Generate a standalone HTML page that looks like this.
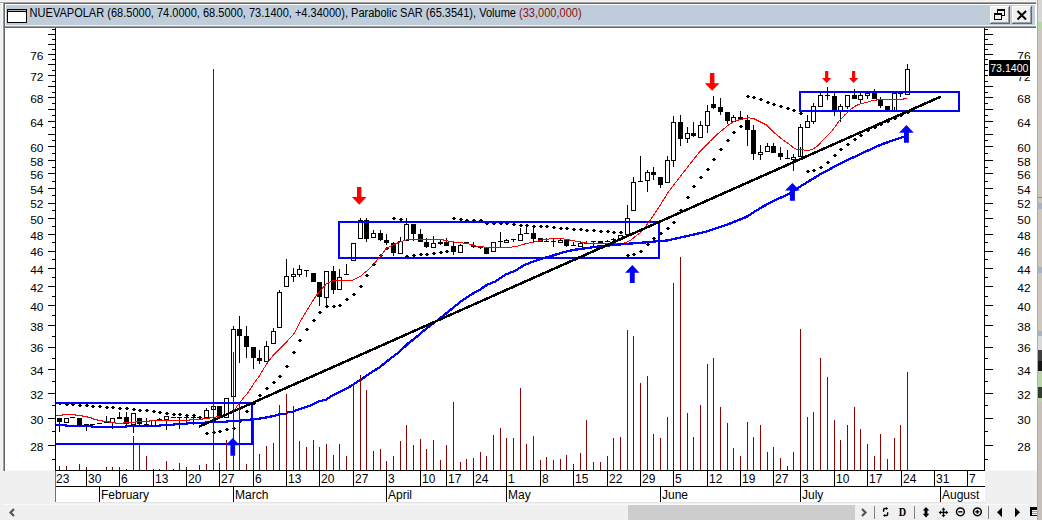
<!DOCTYPE html>
<html><head><meta charset="utf-8"><title>NUEVAPOLAR</title>
<style>
html,body{margin:0;padding:0;background:#f0f0f0;}
body{width:1042px;height:520px;overflow:hidden;position:relative;font-family:"Liberation Sans",sans-serif;}
svg{position:absolute;left:0;top:0;display:block;}
</style></head><body>
<svg width="1042" height="520" viewBox="0 0 1042 520" shape-rendering="crispEdges" font-family="Liberation Sans, sans-serif">
<rect x="0" y="0" width="1042" height="520" fill="#f0f0f0"/>
<rect x="0" y="1" width="1037" height="1" fill="#f6f6f6"/>
<rect x="0" y="2" width="1036" height="1" fill="#a0a0a0"/>
<rect x="3" y="3" width="1033" height="1" fill="#696969"/>
<rect x="0" y="3" width="3" height="1" fill="#ffffff"/>
<rect x="2" y="4" width="1" height="467" fill="#f8f8f8"/>
<rect x="3" y="3" width="1" height="468" fill="#9a9a9a"/>
<rect x="4" y="3" width="1" height="468" fill="#666666"/>
<rect x="5" y="4" width="1032" height="467" fill="#ffffff"/>
<rect x="6" y="5" width="1029" height="20" fill="#bfcddb"/>
<rect x="5" y="25" width="1032" height="1" fill="#f2f2f2"/>
<rect x="5" y="26" width="1031" height="1" fill="#9c9c9c"/>
<rect x="5" y="27" width="1031" height="1" fill="#6a6a6a"/>
<rect x="1037" y="0" width="1" height="520" fill="#f0a040"/>
<rect x="1038" y="0" width="4" height="22" fill="#d6d6d6"/>
<rect x="1038" y="22" width="4" height="7" fill="#b8d4a8"/>
<rect x="1038" y="29" width="4" height="491" fill="#cdc6bf"/>
<rect x="1038" y="197" width="4" height="1" fill="#8a8a8a"/>
<rect x="1038" y="203" width="4" height="6" fill="#a9b3c4"/>
<rect x="1038" y="267" width="4" height="6" fill="#a9b3c4"/>
<rect x="1038" y="331" width="4" height="5" fill="#a8b4c4"/>
<rect x="1038" y="336" width="4" height="14" fill="#dadada"/>
<rect x="1038" y="350" width="4" height="11" fill="#404040"/>
<rect x="1038" y="361" width="4" height="10" fill="#151515"/>
<rect x="1038" y="371" width="4" height="16" fill="#b8d4a8"/>
<rect x="1038" y="387" width="4" height="11" fill="#343c34"/>
<rect x="1038" y="398" width="4" height="4" fill="#b8d4a8"/>
<rect x="1038" y="402" width="4" height="118" fill="#c8c0b8"/>
<rect x="7" y="9" width="20" height="14" fill="#000"/>
<rect x="8" y="10" width="18" height="1" fill="#b4b4b4"/>
<rect x="8" y="12" width="18" height="10" fill="#fff"/>
<rect x="990" y="6" width="20" height="18" fill="#696969"/>
<rect x="990" y="6" width="19" height="17" fill="#ffffff"/>
<rect x="991" y="7" width="18" height="16" fill="#a0a0a0"/>
<rect x="991" y="7" width="17" height="15" fill="#f0f0f0"/>
<rect x="1012" y="6" width="20" height="18" fill="#696969"/>
<rect x="1012" y="6" width="19" height="17" fill="#ffffff"/>
<rect x="1013" y="7" width="18" height="16" fill="#a0a0a0"/>
<rect x="1013" y="7" width="17" height="15" fill="#f0f0f0"/>
<g fill="none" stroke="#000" stroke-width="1">
<rect x="997.5" y="10.5" width="7" height="5"/>
<rect x="994.5" y="14.5" width="7" height="5" fill="#f0f0f0"/>
</g>
<rect x="997" y="9" width="8" height="2" fill="#000"/>
<rect x="994" y="13" width="8" height="2" fill="#000"/>
<path d="M1017.5 11 L1026 19.5 M1026 11 L1017.5 19.5" stroke="#000" stroke-width="2" fill="none" shape-rendering="geometricPrecision"/>
<text x="29.6" y="17" font-size="12" textLength="552" lengthAdjust="spacingAndGlyphs" fill="#000">NUEVAPOLAR (68.5000, 74.0000, 68.5000, 73.1400, +4.34000), Parabolic SAR (65.3541), Volume <tspan fill="#8b1010">(33,000,000)</tspan></text>
<rect x="55" y="28" width="1" height="443" fill="#000"/>
<rect x="984" y="28" width="1" height="443" fill="#000"/>
<rect x="52" y="29" width="3" height="1" fill="#000"/>
<rect x="985" y="29" width="3" height="1" fill="#000"/>
<rect x="48" y="34" width="7" height="1" fill="#000"/>
<rect x="985" y="34" width="8" height="1" fill="#000"/>
<rect x="52" y="39" width="3" height="1" fill="#000"/>
<rect x="985" y="39" width="3" height="1" fill="#000"/>
<rect x="48" y="44" width="7" height="1" fill="#000"/>
<rect x="985" y="44" width="8" height="1" fill="#000"/>
<rect x="52" y="49" width="3" height="1" fill="#000"/>
<rect x="985" y="49" width="3" height="1" fill="#000"/>
<rect x="48" y="54" width="7" height="1" fill="#000"/>
<rect x="985" y="54" width="8" height="1" fill="#000"/>
<rect x="52" y="59" width="3" height="1" fill="#000"/>
<rect x="985" y="59" width="3" height="1" fill="#000"/>
<rect x="48" y="64" width="7" height="1" fill="#000"/>
<rect x="985" y="64" width="8" height="1" fill="#000"/>
<rect x="52" y="70" width="3" height="1" fill="#000"/>
<rect x="985" y="70" width="3" height="1" fill="#000"/>
<rect x="48" y="75" width="7" height="1" fill="#000"/>
<rect x="985" y="75" width="8" height="1" fill="#000"/>
<rect x="52" y="81" width="3" height="1" fill="#000"/>
<rect x="985" y="81" width="3" height="1" fill="#000"/>
<rect x="48" y="86" width="7" height="1" fill="#000"/>
<rect x="985" y="86" width="8" height="1" fill="#000"/>
<rect x="52" y="92" width="3" height="1" fill="#000"/>
<rect x="985" y="92" width="3" height="1" fill="#000"/>
<rect x="48" y="97" width="7" height="1" fill="#000"/>
<rect x="985" y="97" width="8" height="1" fill="#000"/>
<rect x="52" y="103" width="3" height="1" fill="#000"/>
<rect x="985" y="103" width="3" height="1" fill="#000"/>
<rect x="48" y="109" width="7" height="1" fill="#000"/>
<rect x="985" y="109" width="8" height="1" fill="#000"/>
<rect x="52" y="115" width="3" height="1" fill="#000"/>
<rect x="985" y="115" width="3" height="1" fill="#000"/>
<rect x="48" y="121" width="7" height="1" fill="#000"/>
<rect x="985" y="121" width="8" height="1" fill="#000"/>
<rect x="52" y="127" width="3" height="1" fill="#000"/>
<rect x="985" y="127" width="3" height="1" fill="#000"/>
<rect x="48" y="134" width="7" height="1" fill="#000"/>
<rect x="985" y="134" width="8" height="1" fill="#000"/>
<rect x="52" y="140" width="3" height="1" fill="#000"/>
<rect x="985" y="140" width="3" height="1" fill="#000"/>
<rect x="48" y="146" width="7" height="1" fill="#000"/>
<rect x="985" y="146" width="8" height="1" fill="#000"/>
<rect x="52" y="153" width="3" height="1" fill="#000"/>
<rect x="985" y="153" width="3" height="1" fill="#000"/>
<rect x="48" y="160" width="7" height="1" fill="#000"/>
<rect x="985" y="160" width="8" height="1" fill="#000"/>
<rect x="52" y="167" width="3" height="1" fill="#000"/>
<rect x="985" y="167" width="3" height="1" fill="#000"/>
<rect x="48" y="173" width="7" height="1" fill="#000"/>
<rect x="985" y="173" width="8" height="1" fill="#000"/>
<rect x="52" y="181" width="3" height="1" fill="#000"/>
<rect x="985" y="181" width="3" height="1" fill="#000"/>
<rect x="48" y="188" width="7" height="1" fill="#000"/>
<rect x="985" y="188" width="8" height="1" fill="#000"/>
<rect x="52" y="195" width="3" height="1" fill="#000"/>
<rect x="985" y="195" width="3" height="1" fill="#000"/>
<rect x="48" y="203" width="7" height="1" fill="#000"/>
<rect x="985" y="203" width="8" height="1" fill="#000"/>
<rect x="52" y="210" width="3" height="1" fill="#000"/>
<rect x="985" y="210" width="3" height="1" fill="#000"/>
<rect x="48" y="218" width="7" height="1" fill="#000"/>
<rect x="985" y="218" width="8" height="1" fill="#000"/>
<rect x="52" y="226" width="3" height="1" fill="#000"/>
<rect x="985" y="226" width="3" height="1" fill="#000"/>
<rect x="48" y="234" width="7" height="1" fill="#000"/>
<rect x="985" y="234" width="8" height="1" fill="#000"/>
<rect x="52" y="242" width="3" height="1" fill="#000"/>
<rect x="985" y="242" width="3" height="1" fill="#000"/>
<rect x="48" y="251" width="7" height="1" fill="#000"/>
<rect x="985" y="251" width="8" height="1" fill="#000"/>
<rect x="52" y="259" width="3" height="1" fill="#000"/>
<rect x="985" y="259" width="3" height="1" fill="#000"/>
<rect x="48" y="268" width="7" height="1" fill="#000"/>
<rect x="985" y="268" width="8" height="1" fill="#000"/>
<rect x="52" y="277" width="3" height="1" fill="#000"/>
<rect x="985" y="277" width="3" height="1" fill="#000"/>
<rect x="48" y="286" width="7" height="1" fill="#000"/>
<rect x="985" y="286" width="8" height="1" fill="#000"/>
<rect x="52" y="296" width="3" height="1" fill="#000"/>
<rect x="985" y="296" width="3" height="1" fill="#000"/>
<rect x="48" y="305" width="7" height="1" fill="#000"/>
<rect x="985" y="305" width="8" height="1" fill="#000"/>
<rect x="52" y="315" width="3" height="1" fill="#000"/>
<rect x="985" y="315" width="3" height="1" fill="#000"/>
<rect x="48" y="325" width="7" height="1" fill="#000"/>
<rect x="985" y="325" width="8" height="1" fill="#000"/>
<rect x="52" y="336" width="3" height="1" fill="#000"/>
<rect x="985" y="336" width="3" height="1" fill="#000"/>
<rect x="48" y="347" width="7" height="1" fill="#000"/>
<rect x="985" y="347" width="8" height="1" fill="#000"/>
<rect x="52" y="358" width="3" height="1" fill="#000"/>
<rect x="985" y="358" width="3" height="1" fill="#000"/>
<rect x="48" y="369" width="7" height="1" fill="#000"/>
<rect x="985" y="369" width="8" height="1" fill="#000"/>
<rect x="52" y="381" width="3" height="1" fill="#000"/>
<rect x="985" y="381" width="3" height="1" fill="#000"/>
<rect x="48" y="393" width="7" height="1" fill="#000"/>
<rect x="985" y="393" width="8" height="1" fill="#000"/>
<rect x="52" y="405" width="3" height="1" fill="#000"/>
<rect x="985" y="405" width="3" height="1" fill="#000"/>
<rect x="48" y="418" width="7" height="1" fill="#000"/>
<rect x="985" y="418" width="8" height="1" fill="#000"/>
<rect x="52" y="431" width="3" height="1" fill="#000"/>
<rect x="985" y="431" width="3" height="1" fill="#000"/>
<rect x="48" y="445" width="7" height="1" fill="#000"/>
<rect x="985" y="445" width="8" height="1" fill="#000"/>
<rect x="52" y="459" width="3" height="1" fill="#000"/>
<rect x="985" y="459" width="3" height="1" fill="#000"/>
<g font-size="11.4" fill="#000"><text x="30.2" y="59.8" textLength="13.3" lengthAdjust="spacingAndGlyphs">76</text><text x="1017.3" y="59.8" textLength="13.3" lengthAdjust="spacingAndGlyphs">76</text><text x="30.2" y="81.0" textLength="13.3" lengthAdjust="spacingAndGlyphs">72</text><text x="1017.3" y="81.0" textLength="13.3" lengthAdjust="spacingAndGlyphs">72</text><text x="30.2" y="103.4" textLength="13.3" lengthAdjust="spacingAndGlyphs">68</text><text x="1017.3" y="103.4" textLength="13.3" lengthAdjust="spacingAndGlyphs">68</text><text x="30.2" y="127.1" textLength="13.3" lengthAdjust="spacingAndGlyphs">64</text><text x="1017.3" y="127.1" textLength="13.3" lengthAdjust="spacingAndGlyphs">64</text><text x="30.2" y="152.4" textLength="13.3" lengthAdjust="spacingAndGlyphs">60</text><text x="1017.3" y="152.4" textLength="13.3" lengthAdjust="spacingAndGlyphs">60</text><text x="30.2" y="165.6" textLength="13.3" lengthAdjust="spacingAndGlyphs">58</text><text x="1017.3" y="165.6" textLength="13.3" lengthAdjust="spacingAndGlyphs">58</text><text x="30.2" y="179.4" textLength="13.3" lengthAdjust="spacingAndGlyphs">56</text><text x="1017.3" y="179.4" textLength="13.3" lengthAdjust="spacingAndGlyphs">56</text><text x="30.2" y="193.6" textLength="13.3" lengthAdjust="spacingAndGlyphs">54</text><text x="1017.3" y="193.6" textLength="13.3" lengthAdjust="spacingAndGlyphs">54</text><text x="30.2" y="208.4" textLength="13.3" lengthAdjust="spacingAndGlyphs">52</text><text x="1017.3" y="208.4" textLength="13.3" lengthAdjust="spacingAndGlyphs">52</text><text x="30.2" y="223.8" textLength="13.3" lengthAdjust="spacingAndGlyphs">50</text><text x="1017.3" y="223.8" textLength="13.3" lengthAdjust="spacingAndGlyphs">50</text><text x="30.2" y="239.8" textLength="13.3" lengthAdjust="spacingAndGlyphs">48</text><text x="1017.3" y="239.8" textLength="13.3" lengthAdjust="spacingAndGlyphs">48</text><text x="30.2" y="256.4" textLength="13.3" lengthAdjust="spacingAndGlyphs">46</text><text x="1017.3" y="256.4" textLength="13.3" lengthAdjust="spacingAndGlyphs">46</text><text x="30.2" y="273.8" textLength="13.3" lengthAdjust="spacingAndGlyphs">44</text><text x="1017.3" y="273.8" textLength="13.3" lengthAdjust="spacingAndGlyphs">44</text><text x="30.2" y="292.0" textLength="13.3" lengthAdjust="spacingAndGlyphs">42</text><text x="1017.3" y="292.0" textLength="13.3" lengthAdjust="spacingAndGlyphs">42</text><text x="30.2" y="311.1" textLength="13.3" lengthAdjust="spacingAndGlyphs">40</text><text x="1017.3" y="311.1" textLength="13.3" lengthAdjust="spacingAndGlyphs">40</text><text x="30.2" y="331.2" textLength="13.3" lengthAdjust="spacingAndGlyphs">38</text><text x="1017.3" y="331.2" textLength="13.3" lengthAdjust="spacingAndGlyphs">38</text><text x="30.2" y="352.4" textLength="13.3" lengthAdjust="spacingAndGlyphs">36</text><text x="1017.3" y="352.4" textLength="13.3" lengthAdjust="spacingAndGlyphs">36</text><text x="30.2" y="374.8" textLength="13.3" lengthAdjust="spacingAndGlyphs">34</text><text x="1017.3" y="374.8" textLength="13.3" lengthAdjust="spacingAndGlyphs">34</text><text x="30.2" y="398.5" textLength="13.3" lengthAdjust="spacingAndGlyphs">32</text><text x="1017.3" y="398.5" textLength="13.3" lengthAdjust="spacingAndGlyphs">32</text><text x="30.2" y="423.8" textLength="13.3" lengthAdjust="spacingAndGlyphs">30</text><text x="1017.3" y="423.8" textLength="13.3" lengthAdjust="spacingAndGlyphs">30</text><text x="30.2" y="450.8" textLength="13.3" lengthAdjust="spacingAndGlyphs">28</text><text x="1017.3" y="450.8" textLength="13.3" lengthAdjust="spacingAndGlyphs">28</text></g>
<rect x="5" y="470" width="1031" height="1" fill="#f8f8f8"/>
<rect x="55" y="471" width="930" height="31" fill="#ffffff"/>
<rect x="55" y="470" width="930" height="1" fill="#000"/>
<rect x="55" y="486" width="930" height="1" fill="#000"/>
<rect x="55" y="471" width="1" height="31" fill="#707070"/>
<rect x="56" y="502" width="929" height="1" fill="#e4e4e4"/>
<rect x="3" y="504" width="1033" height="1" fill="#fafafa"/>
<rect x="86" y="471" width="1" height="15" fill="#000"/>
<rect x="119" y="471" width="1" height="15" fill="#000"/>
<rect x="153" y="471" width="1" height="15" fill="#000"/>
<rect x="186" y="471" width="1" height="15" fill="#000"/>
<rect x="219" y="471" width="1" height="15" fill="#000"/>
<rect x="253" y="471" width="1" height="15" fill="#000"/>
<rect x="286" y="471" width="1" height="15" fill="#000"/>
<rect x="319" y="471" width="1" height="15" fill="#000"/>
<rect x="353" y="471" width="1" height="15" fill="#000"/>
<rect x="386" y="471" width="1" height="15" fill="#000"/>
<rect x="420" y="471" width="1" height="15" fill="#000"/>
<rect x="446" y="471" width="1" height="15" fill="#000"/>
<rect x="473" y="471" width="1" height="15" fill="#000"/>
<rect x="506" y="471" width="1" height="15" fill="#000"/>
<rect x="540" y="471" width="1" height="15" fill="#000"/>
<rect x="573" y="471" width="1" height="15" fill="#000"/>
<rect x="607" y="471" width="1" height="15" fill="#000"/>
<rect x="640" y="471" width="1" height="15" fill="#000"/>
<rect x="673" y="471" width="1" height="15" fill="#000"/>
<rect x="707" y="471" width="1" height="15" fill="#000"/>
<rect x="740" y="471" width="1" height="15" fill="#000"/>
<rect x="773" y="471" width="1" height="15" fill="#000"/>
<rect x="800" y="471" width="1" height="15" fill="#000"/>
<rect x="834" y="471" width="1" height="15" fill="#000"/>
<rect x="867" y="471" width="1" height="15" fill="#000"/>
<rect x="901" y="471" width="1" height="15" fill="#000"/>
<rect x="934" y="471" width="1" height="15" fill="#000"/>
<rect x="967" y="471" width="1" height="15" fill="#000"/>
<rect x="99" y="487" width="1" height="15" fill="#000"/>
<rect x="233" y="487" width="1" height="15" fill="#000"/>
<rect x="386" y="487" width="1" height="15" fill="#000"/>
<rect x="506" y="487" width="1" height="15" fill="#000"/>
<rect x="660" y="487" width="1" height="15" fill="#000"/>
<rect x="800" y="487" width="1" height="15" fill="#000"/>
<rect x="940" y="487" width="1" height="15" fill="#000"/>
<g font-size="12" fill="#000"><text x="56" y="483">23</text><text x="88.1" y="483">30</text><text x="121.1" y="483">6</text><text x="155.1" y="483">13</text><text x="188.1" y="483">20</text><text x="221.1" y="483">27</text><text x="255.1" y="483">6</text><text x="288.1" y="483">13</text><text x="321.1" y="483">20</text><text x="355.1" y="483">27</text><text x="388.1" y="483">3</text><text x="422.1" y="483">10</text><text x="448.1" y="483">17</text><text x="475.1" y="483">24</text><text x="508.1" y="483">1</text><text x="542.1" y="483">8</text><text x="575.1" y="483">15</text><text x="609.1" y="483">22</text><text x="642.1" y="483">29</text><text x="675.1" y="483">5</text><text x="709.1" y="483">12</text><text x="742.1" y="483">19</text><text x="775.1" y="483">27</text><text x="802.1" y="483">3</text><text x="836.1" y="483">10</text><text x="869.1" y="483">17</text><text x="903.1" y="483">24</text><text x="936.1" y="483">31</text><text x="969.1" y="483">7</text><text x="101.0" y="499">February</text><text x="235.0" y="499">March</text><text x="388.0" y="499">April</text><text x="508.0" y="499">May</text><text x="662.0" y="499">June</text><text x="802.0" y="499">July</text><text x="942.0" y="499">August</text></g>
<rect x="628" y="505" width="227" height="15" fill="#cdcdcd"/>
<path d="M14 509 L10.5 512.5 L14 516" stroke="#555" stroke-width="2.2" fill="none" shape-rendering="geometricPrecision"/>
<path d="M862 509 L865.5 512.5 L862 516" stroke="#555" stroke-width="2.2" fill="none" shape-rendering="geometricPrecision"/>
<rect x="874" y="506" width="1" height="13" fill="#808080"/>
<rect x="914" y="506" width="1" height="13" fill="#808080"/>
<rect x="988" y="506" width="1" height="13" fill="#808080"/>
<g fill="none" stroke="#000" stroke-width="1.4" shape-rendering="geometricPrecision"><path d="M883.6 511.8 V509.6 Q883.6 508.5 884.7 508.5 H886.4"/><path d="M887.6 512.2 V514.4 Q887.6 515.5 886.5 515.5 H884.8"/></g>
<path d="M886.1 506.9 L888.3 508.5 L886.1 510.1 Z M885.1 513.9 L882.9 515.5 L885.1 517.1 Z" fill="#000" shape-rendering="geometricPrecision"/>
<text x="898.8" y="516.2" font-size="12" font-weight="bold" font-family="Liberation Serif, serif" textLength="7.4" lengthAdjust="spacingAndGlyphs" fill="#000">D</text>
<path d="M926 507 L929.3 510.6 L922.7 510.6 Z M926 517.4 L929.3 513.8 L922.7 513.8 Z" fill="#000" shape-rendering="geometricPrecision"/>
<rect x="924.6" y="510" width="2.8" height="4.5" fill="#000" shape-rendering="geometricPrecision"/>
<g fill="#000" shape-rendering="geometricPrecision"><rect x="940" y="511.7" width="7" height="1.4"/><rect x="942.8" y="509" width="1.4" height="7"/><path d="M943.5 507.6 L945.5 509.8 L941.5 509.8Z M943.5 517.2 L945.5 515 L941.5 515Z M938.7 512.4 L940.9 510.4 L940.9 514.4Z M948.3 512.4 L946.1 510.4 L946.1 514.4Z"/></g>
<g fill="none" stroke="#000" stroke-width="1.5" shape-rendering="geometricPrecision"><circle cx="960.4" cy="511.8" r="3.9"/><circle cx="977.4" cy="511.8" r="3.9"/></g>
<g fill="#000" shape-rendering="geometricPrecision"><rect x="958.4" y="511.1" width="4" height="1.4"/><rect x="975.4" y="511.1" width="4" height="1.4"/><rect x="976.7" y="509.8" width="1.4" height="4"/></g>
<path d="M997 512.3 L1002 507.5 L1002 517.2Z M1020 512.3 L1015 507.5 L1015 517.2Z" fill="#000" shape-rendering="geometricPrecision"/>
<rect x="1030" y="507" width="7" height="9" fill="#000"/><rect x="1032" y="510" width="5" height="5" fill="#f4f4f4"/><rect x="1032" y="511" width="5" height="1" fill="#9a9a9a"/><rect x="1032" y="513" width="5" height="1" fill="#9a9a9a"/>
<g><rect x="59" y="422" width="1" height="10" fill="#000"/><rect x="57" y="418" width="5" height="4" fill="#000"/><rect x="64" y="418" width="5" height="5" fill="#000"/><rect x="65" y="419" width="3" height="3" fill="#fff"/><rect x="70" y="417" width="5" height="1" fill="#000"/><rect x="77" y="418" width="5" height="7" fill="#000"/><rect x="86" y="425" width="1" height="6" fill="#000"/><rect x="84" y="424" width="5" height="1" fill="#000"/><rect x="90" y="424" width="5" height="1" fill="#000"/><rect x="97" y="423" width="5" height="1" fill="#000"/><rect x="106" y="416" width="1" height="6" fill="#000"/><rect x="104" y="422" width="5" height="1" fill="#000"/><rect x="112" y="423" width="1" height="6" fill="#000"/><rect x="110" y="418" width="5" height="5" fill="#000"/><rect x="111" y="419" width="3" height="3" fill="#fff"/><rect x="119" y="412" width="1" height="5" fill="#000"/><rect x="117" y="417" width="5" height="2" fill="#000"/><rect x="126" y="412" width="1" height="5" fill="#000"/><rect x="126" y="424" width="1" height="1" fill="#000"/><rect x="124" y="417" width="5" height="7" fill="#000"/><rect x="133" y="425" width="1" height="8" fill="#000"/><rect x="131" y="413" width="5" height="12" fill="#000"/><rect x="132" y="414" width="3" height="10" fill="#fff"/><rect x="139" y="424" width="1" height="1" fill="#000"/><rect x="137" y="418" width="5" height="6" fill="#000"/><rect x="146" y="418" width="1" height="6" fill="#000"/><rect x="144" y="424" width="5" height="1" fill="#000"/><rect x="151" y="420" width="5" height="6" fill="#000"/><rect x="152" y="421" width="3" height="4" fill="#fff"/><rect x="159" y="418" width="1" height="1" fill="#000"/><rect x="157" y="419" width="5" height="1" fill="#000"/><rect x="166" y="420" width="1" height="10" fill="#000"/><rect x="164" y="416" width="5" height="4" fill="#000"/><rect x="165" y="417" width="3" height="2" fill="#fff"/><rect x="171" y="417" width="5" height="1" fill="#000"/><rect x="179" y="418" width="1" height="11" fill="#000"/><rect x="177" y="417" width="5" height="1" fill="#000"/><rect x="186" y="418" width="1" height="5" fill="#000"/><rect x="184" y="417" width="5" height="1" fill="#000"/><rect x="193" y="418" width="1" height="7" fill="#000"/><rect x="191" y="417" width="5" height="1" fill="#000"/><rect x="197" y="417" width="5" height="1" fill="#000"/><rect x="206" y="408" width="1" height="2" fill="#000"/><rect x="204" y="410" width="5" height="8" fill="#000"/><rect x="205" y="411" width="3" height="6" fill="#fff"/><rect x="211" y="406" width="5" height="4" fill="#000"/><rect x="212" y="407" width="3" height="2" fill="#fff"/><rect x="217" y="406" width="5" height="11" fill="#000"/><rect x="224" y="398" width="5" height="20" fill="#000"/><rect x="225" y="399" width="3" height="18" fill="#fff"/><rect x="233" y="326" width="1" height="3" fill="#000"/><rect x="231" y="329" width="5" height="68" fill="#000"/><rect x="232" y="330" width="3" height="66" fill="#fff"/><rect x="239" y="316" width="1" height="13" fill="#000"/><rect x="239" y="336" width="1" height="27" fill="#000"/><rect x="237" y="329" width="5" height="7" fill="#000"/><rect x="246" y="326" width="1" height="10" fill="#000"/><rect x="246" y="347" width="1" height="11" fill="#000"/><rect x="244" y="336" width="5" height="11" fill="#000"/><rect x="253" y="358" width="1" height="11" fill="#000"/><rect x="251" y="347" width="5" height="11" fill="#000"/><rect x="259" y="350" width="1" height="8" fill="#000"/><rect x="259" y="361" width="1" height="3" fill="#000"/><rect x="257" y="358" width="5" height="3" fill="#000"/><rect x="266" y="341" width="1" height="5" fill="#000"/><rect x="264" y="346" width="5" height="16" fill="#000"/><rect x="265" y="347" width="3" height="14" fill="#fff"/><rect x="273" y="328" width="1" height="3" fill="#000"/><rect x="271" y="331" width="5" height="13" fill="#000"/><rect x="272" y="332" width="3" height="11" fill="#fff"/><rect x="279" y="290" width="1" height="2" fill="#000"/><rect x="277" y="292" width="5" height="36" fill="#000"/><rect x="278" y="293" width="3" height="34" fill="#fff"/><rect x="286" y="259" width="1" height="17" fill="#000"/><rect x="284" y="276" width="5" height="11" fill="#000"/><rect x="285" y="277" width="3" height="9" fill="#fff"/><rect x="293" y="268" width="1" height="6" fill="#000"/><rect x="293" y="277" width="1" height="5" fill="#000"/><rect x="291" y="274" width="5" height="3" fill="#000"/><rect x="292" y="275" width="3" height="1" fill="#fff"/><rect x="299" y="265" width="1" height="4" fill="#000"/><rect x="299" y="275" width="1" height="2" fill="#000"/><rect x="297" y="269" width="5" height="6" fill="#000"/><rect x="298" y="270" width="3" height="4" fill="#fff"/><rect x="306" y="271" width="1" height="6" fill="#000"/><rect x="304" y="270" width="5" height="1" fill="#000"/><rect x="311" y="273" width="5" height="9" fill="#000"/><rect x="319" y="297" width="1" height="9" fill="#000"/><rect x="317" y="282" width="5" height="15" fill="#000"/><rect x="326" y="298" width="1" height="9" fill="#000"/><rect x="324" y="271" width="5" height="27" fill="#000"/><rect x="325" y="272" width="3" height="25" fill="#fff"/><rect x="333" y="266" width="1" height="5" fill="#000"/><rect x="333" y="290" width="1" height="4" fill="#000"/><rect x="331" y="271" width="5" height="19" fill="#000"/><rect x="339" y="269" width="1" height="8" fill="#000"/><rect x="337" y="277" width="5" height="13" fill="#000"/><rect x="338" y="278" width="3" height="11" fill="#fff"/><rect x="346" y="264" width="1" height="10" fill="#000"/><rect x="344" y="274" width="5" height="1" fill="#000"/><rect x="351" y="243" width="5" height="18" fill="#000"/><rect x="352" y="244" width="3" height="16" fill="#fff"/><rect x="360" y="218" width="1" height="2" fill="#000"/><rect x="358" y="220" width="5" height="19" fill="#000"/><rect x="359" y="221" width="3" height="17" fill="#fff"/><rect x="366" y="218" width="1" height="2" fill="#000"/><rect x="366" y="239" width="1" height="3" fill="#000"/><rect x="364" y="220" width="5" height="19" fill="#000"/><rect x="373" y="230" width="1" height="3" fill="#000"/><rect x="371" y="233" width="5" height="5" fill="#000"/><rect x="372" y="234" width="3" height="3" fill="#fff"/><rect x="380" y="230" width="1" height="3" fill="#000"/><rect x="380" y="240" width="1" height="1" fill="#000"/><rect x="378" y="233" width="5" height="7" fill="#000"/><rect x="386" y="234" width="1" height="6" fill="#000"/><rect x="386" y="243" width="1" height="2" fill="#000"/><rect x="384" y="240" width="5" height="3" fill="#000"/><rect x="393" y="242" width="1" height="1" fill="#000"/><rect x="393" y="253" width="1" height="3" fill="#000"/><rect x="391" y="243" width="5" height="10" fill="#000"/><rect x="400" y="237" width="1" height="4" fill="#000"/><rect x="398" y="241" width="5" height="13" fill="#000"/><rect x="399" y="242" width="3" height="11" fill="#fff"/><rect x="406" y="218" width="1" height="6" fill="#000"/><rect x="404" y="224" width="5" height="17" fill="#000"/><rect x="405" y="225" width="3" height="15" fill="#fff"/><rect x="413" y="234" width="1" height="7" fill="#000"/><rect x="411" y="224" width="5" height="10" fill="#000"/><rect x="420" y="229" width="1" height="5" fill="#000"/><rect x="418" y="234" width="5" height="8" fill="#000"/><rect x="426" y="238" width="1" height="4" fill="#000"/><rect x="426" y="247" width="1" height="1" fill="#000"/><rect x="424" y="242" width="5" height="5" fill="#000"/><rect x="433" y="236" width="1" height="7" fill="#000"/><rect x="431" y="243" width="5" height="5" fill="#000"/><rect x="432" y="244" width="3" height="3" fill="#fff"/><rect x="440" y="239" width="1" height="3" fill="#000"/><rect x="440" y="244" width="1" height="1" fill="#000"/><rect x="438" y="242" width="5" height="2" fill="#000"/><rect x="446" y="238" width="1" height="4" fill="#000"/><rect x="444" y="242" width="5" height="4" fill="#000"/><rect x="453" y="242" width="1" height="4" fill="#000"/><rect x="453" y="252" width="1" height="3" fill="#000"/><rect x="451" y="246" width="5" height="6" fill="#000"/><rect x="460" y="244" width="1" height="1" fill="#000"/><rect x="458" y="245" width="5" height="8" fill="#000"/><rect x="459" y="246" width="3" height="6" fill="#fff"/><rect x="464" y="242" width="5" height="1" fill="#000"/><rect x="473" y="242" width="1" height="3" fill="#000"/><rect x="473" y="247" width="1" height="1" fill="#000"/><rect x="471" y="245" width="5" height="2" fill="#000"/><rect x="480" y="248" width="1" height="1" fill="#000"/><rect x="478" y="247" width="5" height="1" fill="#000"/><rect x="484" y="248" width="5" height="6" fill="#000"/><rect x="491" y="242" width="5" height="10" fill="#000"/><rect x="492" y="243" width="3" height="8" fill="#fff"/><rect x="500" y="232" width="1" height="9" fill="#000"/><rect x="500" y="242" width="1" height="6" fill="#000"/><rect x="498" y="241" width="5" height="1" fill="#000"/><rect x="506" y="239" width="1" height="1" fill="#000"/><rect x="504" y="240" width="5" height="3" fill="#000"/><rect x="505" y="241" width="3" height="1" fill="#fff"/><rect x="513" y="240" width="1" height="2" fill="#000"/><rect x="511" y="239" width="5" height="1" fill="#000"/><rect x="520" y="228" width="1" height="6" fill="#000"/><rect x="518" y="234" width="5" height="7" fill="#000"/><rect x="519" y="235" width="3" height="5" fill="#fff"/><rect x="526" y="225" width="1" height="8" fill="#000"/><rect x="524" y="233" width="5" height="1" fill="#000"/><rect x="533" y="226" width="1" height="7" fill="#000"/><rect x="533" y="239" width="1" height="4" fill="#000"/><rect x="531" y="233" width="5" height="6" fill="#000"/><rect x="538" y="238" width="5" height="4" fill="#000"/><rect x="546" y="238" width="1" height="3" fill="#000"/><rect x="544" y="241" width="5" height="1" fill="#000"/><rect x="553" y="239" width="1" height="2" fill="#000"/><rect x="553" y="242" width="1" height="5" fill="#000"/><rect x="551" y="241" width="5" height="1" fill="#000"/><rect x="560" y="239" width="1" height="1" fill="#000"/><rect x="558" y="240" width="5" height="3" fill="#000"/><rect x="559" y="241" width="3" height="1" fill="#fff"/><rect x="566" y="246" width="1" height="1" fill="#000"/><rect x="564" y="240" width="5" height="6" fill="#000"/><rect x="573" y="242" width="1" height="3" fill="#000"/><rect x="571" y="245" width="5" height="1" fill="#000"/><rect x="580" y="242" width="1" height="1" fill="#000"/><rect x="578" y="243" width="5" height="4" fill="#000"/><rect x="579" y="244" width="3" height="2" fill="#fff"/><rect x="586" y="241" width="1" height="2" fill="#000"/><rect x="584" y="243" width="5" height="1" fill="#000"/><rect x="593" y="242" width="1" height="4" fill="#000"/><rect x="591" y="241" width="5" height="1" fill="#000"/><rect x="598" y="241" width="5" height="2" fill="#000"/><rect x="607" y="240" width="1" height="1" fill="#000"/><rect x="605" y="241" width="5" height="1" fill="#000"/><rect x="613" y="238" width="1" height="1" fill="#000"/><rect x="613" y="240" width="1" height="2" fill="#000"/><rect x="611" y="239" width="5" height="1" fill="#000"/><rect x="620" y="239" width="1" height="2" fill="#000"/><rect x="618" y="235" width="5" height="4" fill="#000"/><rect x="619" y="236" width="3" height="2" fill="#fff"/><rect x="627" y="205" width="1" height="13" fill="#000"/><rect x="625" y="218" width="5" height="17" fill="#000"/><rect x="626" y="219" width="3" height="15" fill="#fff"/><rect x="633" y="177" width="1" height="5" fill="#000"/><rect x="631" y="182" width="5" height="29" fill="#000"/><rect x="632" y="183" width="3" height="27" fill="#fff"/><rect x="640" y="156" width="1" height="25" fill="#000"/><rect x="638" y="181" width="5" height="1" fill="#000"/><rect x="647" y="170" width="1" height="2" fill="#000"/><rect x="647" y="181" width="1" height="11" fill="#000"/><rect x="645" y="172" width="5" height="9" fill="#000"/><rect x="646" y="173" width="3" height="7" fill="#fff"/><rect x="653" y="167" width="1" height="5" fill="#000"/><rect x="653" y="175" width="1" height="5" fill="#000"/><rect x="651" y="172" width="5" height="3" fill="#000"/><rect x="660" y="185" width="1" height="3" fill="#000"/><rect x="658" y="177" width="5" height="8" fill="#000"/><rect x="667" y="156" width="1" height="4" fill="#000"/><rect x="665" y="160" width="5" height="23" fill="#000"/><rect x="666" y="161" width="3" height="21" fill="#fff"/><rect x="673" y="116" width="1" height="6" fill="#000"/><rect x="673" y="161" width="1" height="6" fill="#000"/><rect x="671" y="122" width="5" height="39" fill="#000"/><rect x="672" y="123" width="3" height="37" fill="#fff"/><rect x="680" y="115" width="1" height="7" fill="#000"/><rect x="680" y="139" width="1" height="7" fill="#000"/><rect x="678" y="122" width="5" height="17" fill="#000"/><rect x="687" y="127" width="1" height="6" fill="#000"/><rect x="687" y="139" width="1" height="4" fill="#000"/><rect x="685" y="133" width="5" height="6" fill="#000"/><rect x="686" y="134" width="3" height="4" fill="#fff"/><rect x="693" y="122" width="1" height="11" fill="#000"/><rect x="693" y="136" width="1" height="1" fill="#000"/><rect x="691" y="133" width="5" height="3" fill="#000"/><rect x="700" y="121" width="1" height="4" fill="#000"/><rect x="698" y="125" width="5" height="13" fill="#000"/><rect x="699" y="126" width="3" height="11" fill="#fff"/><rect x="707" y="105" width="1" height="6" fill="#000"/><rect x="707" y="126" width="1" height="7" fill="#000"/><rect x="705" y="111" width="5" height="15" fill="#000"/><rect x="706" y="112" width="3" height="13" fill="#fff"/><rect x="713" y="96" width="1" height="8" fill="#000"/><rect x="713" y="108" width="1" height="1" fill="#000"/><rect x="711" y="104" width="5" height="4" fill="#000"/><rect x="720" y="98" width="1" height="9" fill="#000"/><rect x="720" y="112" width="1" height="3" fill="#000"/><rect x="718" y="107" width="5" height="5" fill="#000"/><rect x="727" y="121" width="1" height="3" fill="#000"/><rect x="725" y="112" width="5" height="9" fill="#000"/><rect x="733" y="115" width="1" height="2" fill="#000"/><rect x="731" y="117" width="5" height="5" fill="#000"/><rect x="732" y="118" width="3" height="3" fill="#fff"/><rect x="740" y="111" width="1" height="6" fill="#000"/><rect x="738" y="117" width="5" height="3" fill="#000"/><rect x="747" y="115" width="1" height="5" fill="#000"/><rect x="747" y="130" width="1" height="16" fill="#000"/><rect x="745" y="120" width="5" height="10" fill="#000"/><rect x="753" y="125" width="1" height="5" fill="#000"/><rect x="753" y="154" width="1" height="6" fill="#000"/><rect x="751" y="130" width="5" height="24" fill="#000"/><rect x="760" y="145" width="1" height="7" fill="#000"/><rect x="760" y="155" width="1" height="5" fill="#000"/><rect x="758" y="152" width="5" height="3" fill="#000"/><rect x="759" y="153" width="3" height="1" fill="#fff"/><rect x="767" y="143" width="1" height="3" fill="#000"/><rect x="765" y="146" width="5" height="6" fill="#000"/><rect x="766" y="147" width="3" height="4" fill="#fff"/><rect x="773" y="143" width="1" height="3" fill="#000"/><rect x="771" y="146" width="5" height="7" fill="#000"/><rect x="780" y="147" width="1" height="6" fill="#000"/><rect x="780" y="157" width="1" height="3" fill="#000"/><rect x="778" y="153" width="5" height="4" fill="#000"/><rect x="787" y="150" width="1" height="8" fill="#000"/><rect x="785" y="158" width="5" height="1" fill="#000"/><rect x="793" y="154" width="1" height="3" fill="#000"/><rect x="793" y="160" width="1" height="11" fill="#000"/><rect x="791" y="157" width="5" height="3" fill="#000"/><rect x="792" y="158" width="3" height="1" fill="#fff"/><rect x="800" y="124" width="1" height="3" fill="#000"/><rect x="798" y="127" width="5" height="30" fill="#000"/><rect x="799" y="128" width="3" height="28" fill="#fff"/><rect x="800" y="147" width="1" height="9" fill="#000"/><rect x="807" y="115" width="1" height="6" fill="#000"/><rect x="805" y="121" width="5" height="7" fill="#000"/><rect x="806" y="122" width="3" height="5" fill="#fff"/><rect x="813" y="103" width="1" height="3" fill="#000"/><rect x="813" y="122" width="1" height="2" fill="#000"/><rect x="811" y="106" width="5" height="16" fill="#000"/><rect x="812" y="107" width="3" height="14" fill="#fff"/><rect x="820" y="93" width="1" height="2" fill="#000"/><rect x="818" y="95" width="5" height="12" fill="#000"/><rect x="819" y="96" width="3" height="10" fill="#fff"/><rect x="827" y="87" width="1" height="8" fill="#000"/><rect x="827" y="96" width="1" height="4" fill="#000"/><rect x="825" y="95" width="5" height="1" fill="#000"/><rect x="834" y="93" width="1" height="3" fill="#000"/><rect x="834" y="110" width="1" height="6" fill="#000"/><rect x="832" y="96" width="5" height="14" fill="#000"/><rect x="840" y="104" width="1" height="2" fill="#000"/><rect x="840" y="111" width="1" height="11" fill="#000"/><rect x="838" y="106" width="5" height="5" fill="#000"/><rect x="839" y="107" width="3" height="3" fill="#fff"/><rect x="847" y="107" width="1" height="2" fill="#000"/><rect x="845" y="95" width="5" height="12" fill="#000"/><rect x="846" y="96" width="3" height="10" fill="#fff"/><rect x="854" y="89" width="1" height="6" fill="#000"/><rect x="852" y="95" width="5" height="4" fill="#000"/><rect x="860" y="93" width="1" height="2" fill="#000"/><rect x="860" y="100" width="1" height="3" fill="#000"/><rect x="858" y="95" width="5" height="5" fill="#000"/><rect x="859" y="96" width="3" height="3" fill="#fff"/><rect x="867" y="96" width="1" height="3" fill="#000"/><rect x="865" y="93" width="5" height="3" fill="#000"/><rect x="866" y="94" width="3" height="1" fill="#fff"/><rect x="874" y="89" width="1" height="4" fill="#000"/><rect x="872" y="93" width="5" height="6" fill="#000"/><rect x="880" y="97" width="1" height="3" fill="#000"/><rect x="880" y="106" width="1" height="2" fill="#000"/><rect x="878" y="100" width="5" height="6" fill="#000"/><rect x="885" y="106" width="5" height="5" fill="#000"/><rect x="892" y="93" width="5" height="18" fill="#000"/><rect x="893" y="94" width="3" height="16" fill="#fff"/><rect x="894" y="107" width="1" height="3" fill="#000"/><rect x="900" y="94" width="1" height="3" fill="#000"/><rect x="898" y="93" width="5" height="1" fill="#000"/><rect x="907" y="64" width="1" height="5" fill="#000"/><rect x="905" y="69" width="5" height="26" fill="#000"/><rect x="906" y="70" width="3" height="24" fill="#fff"/><rect x="59" y="402" width="2" height="3" fill="#000"/><rect x="58" y="403" width="4" height="1" fill="#000"/><rect x="66" y="403" width="2" height="3" fill="#000"/><rect x="65" y="404" width="4" height="1" fill="#000"/><rect x="72" y="403" width="2" height="3" fill="#000"/><rect x="71" y="404" width="4" height="1" fill="#000"/><rect x="79" y="404" width="2" height="3" fill="#000"/><rect x="78" y="405" width="4" height="1" fill="#000"/><rect x="86" y="404" width="2" height="3" fill="#000"/><rect x="85" y="405" width="4" height="1" fill="#000"/><rect x="92" y="405" width="2" height="3" fill="#000"/><rect x="91" y="406" width="4" height="1" fill="#000"/><rect x="99" y="405" width="2" height="3" fill="#000"/><rect x="98" y="406" width="4" height="1" fill="#000"/><rect x="106" y="406" width="2" height="3" fill="#000"/><rect x="105" y="407" width="4" height="1" fill="#000"/><rect x="112" y="406" width="2" height="3" fill="#000"/><rect x="111" y="407" width="4" height="1" fill="#000"/><rect x="119" y="407" width="2" height="3" fill="#000"/><rect x="118" y="408" width="4" height="1" fill="#000"/><rect x="126" y="407" width="2" height="3" fill="#000"/><rect x="125" y="408" width="4" height="1" fill="#000"/><rect x="133" y="408" width="2" height="3" fill="#000"/><rect x="132" y="409" width="4" height="1" fill="#000"/><rect x="139" y="409" width="2" height="3" fill="#000"/><rect x="138" y="410" width="4" height="1" fill="#000"/><rect x="146" y="409" width="2" height="3" fill="#000"/><rect x="145" y="410" width="4" height="1" fill="#000"/><rect x="153" y="410" width="2" height="3" fill="#000"/><rect x="152" y="411" width="4" height="1" fill="#000"/><rect x="159" y="411" width="2" height="3" fill="#000"/><rect x="158" y="412" width="4" height="1" fill="#000"/><rect x="166" y="412" width="2" height="3" fill="#000"/><rect x="165" y="413" width="4" height="1" fill="#000"/><rect x="173" y="413" width="2" height="3" fill="#000"/><rect x="172" y="414" width="4" height="1" fill="#000"/><rect x="179" y="413" width="2" height="3" fill="#000"/><rect x="178" y="414" width="4" height="1" fill="#000"/><rect x="186" y="414" width="2" height="3" fill="#000"/><rect x="185" y="415" width="4" height="1" fill="#000"/><rect x="193" y="414" width="2" height="3" fill="#000"/><rect x="192" y="415" width="4" height="1" fill="#000"/><rect x="199" y="416" width="2" height="3" fill="#000"/><rect x="198" y="417" width="4" height="1" fill="#000"/><rect x="206" y="432" width="2" height="3" fill="#000"/><rect x="205" y="433" width="4" height="1" fill="#000"/><rect x="213" y="431" width="2" height="3" fill="#000"/><rect x="212" y="432" width="4" height="1" fill="#000"/><rect x="219" y="430" width="2" height="3" fill="#000"/><rect x="218" y="431" width="4" height="1" fill="#000"/><rect x="226" y="428" width="2" height="3" fill="#000"/><rect x="225" y="429" width="4" height="1" fill="#000"/><rect x="233" y="427" width="2" height="3" fill="#000"/><rect x="232" y="428" width="4" height="1" fill="#000"/><rect x="239" y="420" width="2" height="3" fill="#000"/><rect x="238" y="421" width="4" height="1" fill="#000"/><rect x="246" y="410" width="2" height="3" fill="#000"/><rect x="245" y="411" width="4" height="1" fill="#000"/><rect x="253" y="402" width="2" height="3" fill="#000"/><rect x="252" y="403" width="4" height="1" fill="#000"/><rect x="259" y="394" width="2" height="3" fill="#000"/><rect x="258" y="395" width="4" height="1" fill="#000"/><rect x="266" y="387" width="2" height="3" fill="#000"/><rect x="265" y="388" width="4" height="1" fill="#000"/><rect x="273" y="381" width="2" height="3" fill="#000"/><rect x="272" y="382" width="4" height="1" fill="#000"/><rect x="279" y="375" width="2" height="3" fill="#000"/><rect x="278" y="376" width="4" height="1" fill="#000"/><rect x="286" y="365" width="2" height="3" fill="#000"/><rect x="285" y="366" width="4" height="1" fill="#000"/><rect x="293" y="351" width="2" height="3" fill="#000"/><rect x="292" y="352" width="4" height="1" fill="#000"/><rect x="299" y="339" width="2" height="3" fill="#000"/><rect x="298" y="340" width="4" height="1" fill="#000"/><rect x="306" y="328" width="2" height="3" fill="#000"/><rect x="305" y="329" width="4" height="1" fill="#000"/><rect x="313" y="319" width="2" height="3" fill="#000"/><rect x="312" y="320" width="4" height="1" fill="#000"/><rect x="319" y="311" width="2" height="3" fill="#000"/><rect x="318" y="312" width="4" height="1" fill="#000"/><rect x="326" y="305" width="2" height="3" fill="#000"/><rect x="325" y="306" width="4" height="1" fill="#000"/><rect x="333" y="305" width="2" height="3" fill="#000"/><rect x="332" y="306" width="4" height="1" fill="#000"/><rect x="339" y="304" width="2" height="3" fill="#000"/><rect x="338" y="305" width="4" height="1" fill="#000"/><rect x="346" y="298" width="2" height="3" fill="#000"/><rect x="345" y="299" width="4" height="1" fill="#000"/><rect x="353" y="293" width="2" height="3" fill="#000"/><rect x="352" y="294" width="4" height="1" fill="#000"/><rect x="360" y="285" width="2" height="3" fill="#000"/><rect x="359" y="286" width="4" height="1" fill="#000"/><rect x="366" y="274" width="2" height="3" fill="#000"/><rect x="365" y="275" width="4" height="1" fill="#000"/><rect x="373" y="263" width="2" height="3" fill="#000"/><rect x="372" y="264" width="4" height="1" fill="#000"/><rect x="380" y="254" width="2" height="3" fill="#000"/><rect x="379" y="255" width="4" height="1" fill="#000"/><rect x="386" y="247" width="2" height="3" fill="#000"/><rect x="385" y="248" width="4" height="1" fill="#000"/><rect x="393" y="217" width="2" height="3" fill="#000"/><rect x="392" y="218" width="4" height="1" fill="#000"/><rect x="400" y="218" width="2" height="3" fill="#000"/><rect x="399" y="219" width="4" height="1" fill="#000"/><rect x="406" y="255" width="2" height="3" fill="#000"/><rect x="405" y="256" width="4" height="1" fill="#000"/><rect x="413" y="254" width="2" height="3" fill="#000"/><rect x="412" y="255" width="4" height="1" fill="#000"/><rect x="420" y="253" width="2" height="3" fill="#000"/><rect x="419" y="254" width="4" height="1" fill="#000"/><rect x="426" y="253" width="2" height="3" fill="#000"/><rect x="425" y="254" width="4" height="1" fill="#000"/><rect x="433" y="252" width="2" height="3" fill="#000"/><rect x="432" y="253" width="4" height="1" fill="#000"/><rect x="440" y="251" width="2" height="3" fill="#000"/><rect x="439" y="252" width="4" height="1" fill="#000"/><rect x="446" y="250" width="2" height="3" fill="#000"/><rect x="445" y="251" width="4" height="1" fill="#000"/><rect x="453" y="217" width="2" height="3" fill="#000"/><rect x="452" y="218" width="4" height="1" fill="#000"/><rect x="460" y="218" width="2" height="3" fill="#000"/><rect x="459" y="219" width="4" height="1" fill="#000"/><rect x="466" y="219" width="2" height="3" fill="#000"/><rect x="465" y="220" width="4" height="1" fill="#000"/><rect x="473" y="219" width="2" height="3" fill="#000"/><rect x="472" y="220" width="4" height="1" fill="#000"/><rect x="480" y="219" width="2" height="3" fill="#000"/><rect x="479" y="220" width="4" height="1" fill="#000"/><rect x="486" y="222" width="2" height="3" fill="#000"/><rect x="485" y="223" width="4" height="1" fill="#000"/><rect x="493" y="222" width="2" height="3" fill="#000"/><rect x="492" y="223" width="4" height="1" fill="#000"/><rect x="500" y="222" width="2" height="3" fill="#000"/><rect x="499" y="223" width="4" height="1" fill="#000"/><rect x="506" y="222" width="2" height="3" fill="#000"/><rect x="505" y="223" width="4" height="1" fill="#000"/><rect x="513" y="223" width="2" height="3" fill="#000"/><rect x="512" y="224" width="4" height="1" fill="#000"/><rect x="520" y="224" width="2" height="3" fill="#000"/><rect x="519" y="225" width="4" height="1" fill="#000"/><rect x="526" y="224" width="2" height="3" fill="#000"/><rect x="525" y="225" width="4" height="1" fill="#000"/><rect x="533" y="225" width="2" height="3" fill="#000"/><rect x="532" y="226" width="4" height="1" fill="#000"/><rect x="540" y="225" width="2" height="3" fill="#000"/><rect x="539" y="226" width="4" height="1" fill="#000"/><rect x="546" y="225" width="2" height="3" fill="#000"/><rect x="545" y="226" width="4" height="1" fill="#000"/><rect x="553" y="226" width="2" height="3" fill="#000"/><rect x="552" y="227" width="4" height="1" fill="#000"/><rect x="560" y="227" width="2" height="3" fill="#000"/><rect x="559" y="228" width="4" height="1" fill="#000"/><rect x="566" y="227" width="2" height="3" fill="#000"/><rect x="565" y="228" width="4" height="1" fill="#000"/><rect x="573" y="228" width="2" height="3" fill="#000"/><rect x="572" y="229" width="4" height="1" fill="#000"/><rect x="580" y="228" width="2" height="3" fill="#000"/><rect x="579" y="229" width="4" height="1" fill="#000"/><rect x="586" y="229" width="2" height="3" fill="#000"/><rect x="585" y="230" width="4" height="1" fill="#000"/><rect x="593" y="229" width="2" height="3" fill="#000"/><rect x="592" y="230" width="4" height="1" fill="#000"/><rect x="600" y="230" width="2" height="3" fill="#000"/><rect x="599" y="231" width="4" height="1" fill="#000"/><rect x="607" y="230" width="2" height="3" fill="#000"/><rect x="606" y="231" width="4" height="1" fill="#000"/><rect x="613" y="231" width="2" height="3" fill="#000"/><rect x="612" y="232" width="4" height="1" fill="#000"/><rect x="620" y="231" width="2" height="3" fill="#000"/><rect x="619" y="232" width="4" height="1" fill="#000"/><rect x="627" y="254" width="2" height="3" fill="#000"/><rect x="626" y="255" width="4" height="1" fill="#000"/><rect x="633" y="253" width="2" height="3" fill="#000"/><rect x="632" y="254" width="4" height="1" fill="#000"/><rect x="640" y="250" width="2" height="3" fill="#000"/><rect x="639" y="251" width="4" height="1" fill="#000"/><rect x="647" y="243" width="2" height="3" fill="#000"/><rect x="646" y="244" width="4" height="1" fill="#000"/><rect x="653" y="237" width="2" height="3" fill="#000"/><rect x="652" y="238" width="4" height="1" fill="#000"/><rect x="660" y="232" width="2" height="3" fill="#000"/><rect x="659" y="233" width="4" height="1" fill="#000"/><rect x="667" y="227" width="2" height="3" fill="#000"/><rect x="666" y="228" width="4" height="1" fill="#000"/><rect x="673" y="221" width="2" height="3" fill="#000"/><rect x="672" y="222" width="4" height="1" fill="#000"/><rect x="680" y="209" width="2" height="3" fill="#000"/><rect x="679" y="210" width="4" height="1" fill="#000"/><rect x="687" y="196" width="2" height="3" fill="#000"/><rect x="686" y="197" width="4" height="1" fill="#000"/><rect x="693" y="185" width="2" height="3" fill="#000"/><rect x="692" y="186" width="4" height="1" fill="#000"/><rect x="700" y="176" width="2" height="3" fill="#000"/><rect x="699" y="177" width="4" height="1" fill="#000"/><rect x="707" y="168" width="2" height="3" fill="#000"/><rect x="706" y="169" width="4" height="1" fill="#000"/><rect x="713" y="158" width="2" height="3" fill="#000"/><rect x="712" y="159" width="4" height="1" fill="#000"/><rect x="720" y="148" width="2" height="3" fill="#000"/><rect x="719" y="149" width="4" height="1" fill="#000"/><rect x="727" y="139" width="2" height="3" fill="#000"/><rect x="726" y="140" width="4" height="1" fill="#000"/><rect x="733" y="131" width="2" height="3" fill="#000"/><rect x="732" y="132" width="4" height="1" fill="#000"/><rect x="740" y="125" width="2" height="3" fill="#000"/><rect x="739" y="126" width="4" height="1" fill="#000"/><rect x="747" y="95" width="2" height="3" fill="#000"/><rect x="746" y="96" width="4" height="1" fill="#000"/><rect x="753" y="96" width="2" height="3" fill="#000"/><rect x="752" y="97" width="4" height="1" fill="#000"/><rect x="760" y="98" width="2" height="3" fill="#000"/><rect x="759" y="99" width="4" height="1" fill="#000"/><rect x="767" y="101" width="2" height="3" fill="#000"/><rect x="766" y="102" width="4" height="1" fill="#000"/><rect x="773" y="103" width="2" height="3" fill="#000"/><rect x="772" y="104" width="4" height="1" fill="#000"/><rect x="780" y="105" width="2" height="3" fill="#000"/><rect x="779" y="106" width="4" height="1" fill="#000"/><rect x="787" y="107" width="2" height="3" fill="#000"/><rect x="786" y="108" width="4" height="1" fill="#000"/><rect x="793" y="109" width="2" height="3" fill="#000"/><rect x="792" y="110" width="4" height="1" fill="#000"/><rect x="800" y="112" width="2" height="3" fill="#000"/><rect x="799" y="113" width="4" height="1" fill="#000"/><rect x="807" y="170" width="2" height="3" fill="#000"/><rect x="806" y="171" width="4" height="1" fill="#000"/><rect x="813" y="169" width="2" height="3" fill="#000"/><rect x="812" y="170" width="4" height="1" fill="#000"/><rect x="820" y="166" width="2" height="3" fill="#000"/><rect x="819" y="167" width="4" height="1" fill="#000"/><rect x="827" y="161" width="2" height="3" fill="#000"/><rect x="826" y="162" width="4" height="1" fill="#000"/><rect x="834" y="154" width="2" height="3" fill="#000"/><rect x="833" y="155" width="4" height="1" fill="#000"/><rect x="840" y="148" width="2" height="3" fill="#000"/><rect x="839" y="149" width="4" height="1" fill="#000"/><rect x="847" y="143" width="2" height="3" fill="#000"/><rect x="846" y="144" width="4" height="1" fill="#000"/><rect x="854" y="138" width="2" height="3" fill="#000"/><rect x="853" y="139" width="4" height="1" fill="#000"/><rect x="860" y="134" width="2" height="3" fill="#000"/><rect x="859" y="135" width="4" height="1" fill="#000"/><rect x="867" y="129" width="2" height="3" fill="#000"/><rect x="866" y="130" width="4" height="1" fill="#000"/><rect x="874" y="126" width="2" height="3" fill="#000"/><rect x="873" y="127" width="4" height="1" fill="#000"/><rect x="880" y="123" width="2" height="3" fill="#000"/><rect x="879" y="124" width="4" height="1" fill="#000"/><rect x="887" y="120" width="2" height="3" fill="#000"/><rect x="886" y="121" width="4" height="1" fill="#000"/><rect x="894" y="117" width="2" height="3" fill="#000"/><rect x="893" y="118" width="4" height="1" fill="#000"/><rect x="900" y="114" width="2" height="3" fill="#000"/><rect x="899" y="115" width="4" height="1" fill="#000"/><rect x="907" y="111" width="2" height="3" fill="#000"/><rect x="906" y="112" width="4" height="1" fill="#000"/><rect x="56" y="402" width="197" height="2" fill="#0000ff"/><rect x="56" y="443" width="197" height="2" fill="#0000ff"/><rect x="251" y="402" width="2" height="43" fill="#0000ff"/><rect x="338" y="221" width="322" height="2" fill="#0000ff"/><rect x="338" y="257" width="322" height="2" fill="#0000ff"/><rect x="338" y="221" width="2" height="38" fill="#0000ff"/><rect x="658" y="221" width="2" height="38" fill="#0000ff"/><rect x="799" y="91" width="161" height="2" fill="#0000ff"/><rect x="799" y="110" width="161" height="2" fill="#0000ff"/><rect x="799" y="91" width="2" height="21" fill="#0000ff"/><rect x="958" y="91" width="2" height="21" fill="#0000ff"/><polyline points="56.0,415.5 62.5,415.5 63.0,414.5 75.5,414.5 76.0,415.5 82.5,415.5 83.0,416.5 87.5,416.5 88.0,417.5 91.5,417.5 92.0,418.5 93.5,418.5 94.0,419.5 97.5,419.5 98.0,420.5 102.5,420.5 103.0,421.5 109.5,421.5 110.0,422.5 115.5,422.5 116.0,423.5 123.0,423.5 124.0,422.5 135.5,422.5 136.0,421.5 149.5,421.5 150.0,420.5 189.5,420.5 190.0,419.5 202.5,419.5 203.0,418.5 209.5,418.5 210.0,417.5 216.5,417.0 226.0,414.7 233.7,410.8 240.8,401.2 248.5,391.9 255.4,381.2 258.3,377.6 267.5,362.7 274.0,354.4 281.4,347.3 293.7,334.2 301.4,319.6 306.0,311.9 309.6,306.0 316.3,295.4 326.0,284.2 332.7,280.6 340.0,280.0 346.9,281.0 353.8,279.8 360.5,276.2 367.7,270.2 374.6,263.1 380.0,256.7 384.4,251.0 386.1,248.4 390.7,246.2 400.0,241.9 405.8,240.0 410.0,239.8 442.7,239.8 450.7,241.7 462.3,242.9 466.9,243.4 477.3,246.4 490.0,247.5 509.6,247.5 517.7,246.0 524.6,244.0 531.5,242.5 543.0,239.8 552.3,238.6 563.8,238.9 574.6,241.0 580.0,241.9 586.0,242.7 590.0,243.7 610.0,243.9 620.0,243.7 625.4,242.7 630.8,240.0 636.1,235.9 640.0,232.9 644.6,227.7 649.6,221.2 654.5,213.9 659.2,206.7 664.0,199.0 668.8,191.4 673.6,185.0 678.5,178.9 683.3,172.6 688.1,166.4 693.8,159.1 699.6,151.9 709.6,141.7 716.5,135.0 724.6,128.1 730.0,124.0 734.2,121.3 741.1,119.2 748.1,117.7 753.8,118.7 759.6,121.5 766.5,125.0 773.4,131.9 781.5,138.8 789.6,144.6 795.0,148.9 803.7,150.0 808.5,150.6 813.3,148.9 818.1,145.5 823.8,139.2 830.6,132.5 835.4,126.3 839.2,121.0 845.0,114.7 850.4,109.6 855.8,105.8 860.4,103.7 865.0,102.7 870.0,101.5 871.5,100.5 876.5,100.5 877.0,99.5 903.5,99.5 904.0,98.5 907.0,98.5" fill="none" stroke="#ff0000" stroke-width="1" shape-rendering="crispEdges"/><polyline points="56.0,425.0 66.0,425.0 66.5,426.0 92.0,426.0 92.5,427.0 126.0,427.0 126.5,426.0 159.5,426.0 160.0,425.0 173.5,425.0 174.0,424.0 186.7,424.0 187.2,423.0 206.0,423.0 206.5,422.0 226.5,422.0 227.0,421.0 239.5,421.0 240.0,420.3 253.0,419.5 260.0,418.6 266.8,417.3 273.5,416.0 280.0,414.2 286.0,413.8 287.7,412.2 293.0,411.9 295.4,410.4 303.1,408.1 310.8,405.4 318.5,401.5 326.2,399.6 330.0,397.0 337.7,392.7 345.4,389.2 350.0,386.5 361.9,379.0 369.6,373.5 379.2,367.5 388.8,359.8 398.5,352.6 408.1,343.5 415.0,338.2 426.5,328.4 438.1,319.8 449.6,310.6 461.1,301.3 470.0,295.2 479.6,289.9 487.3,284.6 495.0,281.7 505.6,274.5 515.2,270.7 523.8,265.4 530.0,262.7 540.8,259.0 551.5,256.0 562.3,252.5 573.0,250.0 583.0,248.6 590.0,247.6 597.0,246.7 604.0,245.8 614.5,245.0 621.0,244.3 633.5,243.3 647.0,242.3 654.0,241.5 667.0,240.5 681.6,237.3 704.7,232.0 727.8,224.4 746.2,217.0 762.4,206.8 778.6,198.6 792.4,192.4 800.2,186.5 820.4,174.2 840.6,163.4 860.8,153.8 881.0,144.6 901.2,137.5 905.3,136.2" fill="none" stroke="#0000ff" stroke-width="2.3" stroke-linejoin="round" shape-rendering="crispEdges"/><line x1="199.0" y1="426.7" x2="940.6" y2="96.7" stroke="#000" stroke-width="2.5" stroke-linecap="butt" shape-rendering="crispEdges"/><rect x="59" y="466" width="1" height="4" fill="#880000"/><rect x="66" y="466" width="1" height="4" fill="#880000"/><rect x="79" y="464" width="1" height="6" fill="#880000"/><rect x="86" y="467" width="1" height="3" fill="#880000"/><rect x="106" y="467" width="1" height="3" fill="#880000"/><rect x="112" y="467" width="1" height="3" fill="#880000"/><rect x="119" y="467" width="1" height="3" fill="#880000"/><rect x="126" y="469" width="1" height="1" fill="#880000"/><rect x="133" y="436" width="1" height="34" fill="#880000"/><rect x="139" y="444" width="1" height="26" fill="#880000"/><rect x="146" y="456" width="1" height="14" fill="#880000"/><rect x="153" y="469" width="1" height="1" fill="#880000"/><rect x="159" y="469" width="1" height="1" fill="#880000"/><rect x="166" y="461" width="1" height="9" fill="#880000"/><rect x="173" y="469" width="1" height="1" fill="#880000"/><rect x="179" y="463" width="1" height="7" fill="#880000"/><rect x="186" y="467" width="1" height="3" fill="#880000"/><rect x="199" y="465" width="1" height="5" fill="#880000"/><rect x="206" y="464" width="1" height="6" fill="#880000"/><rect x="213" y="69" width="1" height="401" fill="#880000"/><rect x="219" y="463" width="1" height="7" fill="#880000"/><rect x="226" y="440" width="1" height="30" fill="#880000"/><rect x="233" y="352" width="1" height="118" fill="#880000"/><rect x="239" y="402" width="1" height="68" fill="#880000"/><rect x="246" y="464" width="1" height="6" fill="#880000"/><rect x="253" y="418" width="1" height="52" fill="#880000"/><rect x="259" y="454" width="1" height="16" fill="#880000"/><rect x="266" y="446" width="1" height="24" fill="#880000"/><rect x="273" y="443" width="1" height="27" fill="#880000"/><rect x="279" y="405" width="1" height="65" fill="#880000"/><rect x="286" y="394" width="1" height="76" fill="#880000"/><rect x="293" y="406" width="1" height="64" fill="#880000"/><rect x="299" y="441" width="1" height="29" fill="#880000"/><rect x="306" y="447" width="1" height="23" fill="#880000"/><rect x="313" y="440" width="1" height="30" fill="#880000"/><rect x="319" y="447" width="1" height="23" fill="#880000"/><rect x="326" y="444" width="1" height="26" fill="#880000"/><rect x="333" y="455" width="1" height="15" fill="#880000"/><rect x="339" y="444" width="1" height="26" fill="#880000"/><rect x="346" y="456" width="1" height="14" fill="#880000"/><rect x="353" y="383" width="1" height="87" fill="#880000"/><rect x="360" y="375" width="1" height="95" fill="#880000"/><rect x="366" y="390" width="1" height="80" fill="#880000"/><rect x="373" y="451" width="1" height="19" fill="#880000"/><rect x="380" y="449" width="1" height="21" fill="#880000"/><rect x="386" y="461" width="1" height="9" fill="#880000"/><rect x="393" y="456" width="1" height="14" fill="#880000"/><rect x="400" y="441" width="1" height="29" fill="#880000"/><rect x="406" y="425" width="1" height="45" fill="#880000"/><rect x="413" y="445" width="1" height="25" fill="#880000"/><rect x="420" y="439" width="1" height="31" fill="#880000"/><rect x="426" y="449" width="1" height="21" fill="#880000"/><rect x="433" y="440" width="1" height="30" fill="#880000"/><rect x="440" y="460" width="1" height="10" fill="#880000"/><rect x="446" y="445" width="1" height="25" fill="#880000"/><rect x="453" y="402" width="1" height="68" fill="#880000"/><rect x="460" y="462" width="1" height="8" fill="#880000"/><rect x="466" y="459" width="1" height="11" fill="#880000"/><rect x="473" y="458" width="1" height="12" fill="#880000"/><rect x="480" y="452" width="1" height="18" fill="#880000"/><rect x="486" y="456" width="1" height="14" fill="#880000"/><rect x="493" y="435" width="1" height="35" fill="#880000"/><rect x="500" y="428" width="1" height="42" fill="#880000"/><rect x="506" y="438" width="1" height="32" fill="#880000"/><rect x="513" y="438" width="1" height="32" fill="#880000"/><rect x="520" y="388" width="1" height="82" fill="#880000"/><rect x="526" y="444" width="1" height="26" fill="#880000"/><rect x="533" y="436" width="1" height="34" fill="#880000"/><rect x="540" y="460" width="1" height="10" fill="#880000"/><rect x="546" y="457" width="1" height="13" fill="#880000"/><rect x="553" y="460" width="1" height="10" fill="#880000"/><rect x="560" y="459" width="1" height="11" fill="#880000"/><rect x="566" y="455" width="1" height="15" fill="#880000"/><rect x="573" y="464" width="1" height="6" fill="#880000"/><rect x="580" y="453" width="1" height="17" fill="#880000"/><rect x="586" y="420" width="1" height="50" fill="#880000"/><rect x="593" y="462" width="1" height="8" fill="#880000"/><rect x="600" y="462" width="1" height="8" fill="#880000"/><rect x="607" y="456" width="1" height="14" fill="#880000"/><rect x="613" y="438" width="1" height="32" fill="#880000"/><rect x="620" y="437" width="1" height="33" fill="#880000"/><rect x="627" y="330" width="1" height="140" fill="#880000"/><rect x="633" y="336" width="1" height="134" fill="#880000"/><rect x="640" y="383" width="1" height="87" fill="#880000"/><rect x="647" y="376" width="1" height="94" fill="#880000"/><rect x="653" y="434" width="1" height="36" fill="#880000"/><rect x="660" y="438" width="1" height="32" fill="#880000"/><rect x="667" y="417" width="1" height="53" fill="#880000"/><rect x="673" y="283" width="1" height="187" fill="#880000"/><rect x="680" y="257" width="1" height="213" fill="#880000"/><rect x="687" y="413" width="1" height="57" fill="#880000"/><rect x="693" y="437" width="1" height="33" fill="#880000"/><rect x="700" y="405" width="1" height="65" fill="#880000"/><rect x="707" y="364" width="1" height="106" fill="#880000"/><rect x="713" y="358" width="1" height="112" fill="#880000"/><rect x="720" y="407" width="1" height="63" fill="#880000"/><rect x="727" y="423" width="1" height="47" fill="#880000"/><rect x="733" y="448" width="1" height="22" fill="#880000"/><rect x="740" y="456" width="1" height="14" fill="#880000"/><rect x="747" y="422" width="1" height="48" fill="#880000"/><rect x="753" y="437" width="1" height="33" fill="#880000"/><rect x="760" y="425" width="1" height="45" fill="#880000"/><rect x="767" y="452" width="1" height="18" fill="#880000"/><rect x="773" y="447" width="1" height="23" fill="#880000"/><rect x="780" y="458" width="1" height="12" fill="#880000"/><rect x="787" y="466" width="1" height="4" fill="#880000"/><rect x="793" y="452" width="1" height="18" fill="#880000"/><rect x="800" y="329" width="1" height="141" fill="#880000"/><rect x="807" y="417" width="1" height="53" fill="#880000"/><rect x="813" y="412" width="1" height="58" fill="#880000"/><rect x="820" y="358" width="1" height="112" fill="#880000"/><rect x="827" y="377" width="1" height="93" fill="#880000"/><rect x="834" y="420" width="1" height="50" fill="#880000"/><rect x="840" y="440" width="1" height="30" fill="#880000"/><rect x="847" y="425" width="1" height="45" fill="#880000"/><rect x="854" y="407" width="1" height="63" fill="#880000"/><rect x="860" y="429" width="1" height="41" fill="#880000"/><rect x="867" y="444" width="1" height="26" fill="#880000"/><rect x="874" y="456" width="1" height="14" fill="#880000"/><rect x="880" y="434" width="1" height="36" fill="#880000"/><rect x="887" y="459" width="1" height="11" fill="#880000"/><rect x="894" y="438" width="1" height="32" fill="#880000"/><rect x="900" y="425" width="1" height="45" fill="#880000"/><rect x="907" y="372" width="1" height="98" fill="#880000"/><path d="M357.0 187 h4.4 v10 h5.1 L359.2 204.8 L351.9 197 h5.1 Z" fill="#ff0000" shape-rendering="geometricPrecision"/><path d="M710.0 73 h4.4 v10.2 h5.1 L712.2 90.8 L704.9 83.2 h5.1 Z" fill="#ff0000" shape-rendering="geometricPrecision"/><path d="M825.1 71 h3.2 v7 h3.1 L826.7 83.0 L822.0 78 h3.1 Z" fill="#ff0000" shape-rendering="geometricPrecision"/><path d="M852.0 71 h3.2 v7 h3.1 L853.6 83.0 L848.9 78 h3.1 Z" fill="#ff0000" shape-rendering="geometricPrecision"/><path d="M232.8 438.1 L239.8 445.3 h-4.7 v10.5 h-4.7 v-10.5 h-4.7 Z" fill="#0000ff" shape-rendering="geometricPrecision"/><path d="M632.3 265.1 L639.5 272.7 h-4.8 v10.2 h-4.8 v-10.2 h-4.8 Z" fill="#0000ff" shape-rendering="geometricPrecision"/><path d="M792.4 183.1 L799.7 190.6 h-4.8 v10.2 h-5 v-10.2 h-4.8 Z" fill="#0000ff" shape-rendering="geometricPrecision"/><path d="M906.4 125 L913.8 132.8 h-4.9 v10 h-4.9 v-10 h-4.9 Z" fill="#0000ff" shape-rendering="geometricPrecision"/></g>
<rect x="988" y="59" width="43" height="18" fill="#fff"/>
<rect x="989" y="60" width="41" height="16" fill="#000"/>
<text x="990.2" y="72" font-size="11" fill="#fff" textLength="38.3" lengthAdjust="spacingAndGlyphs">73.1400</text>
</svg>
</body></html>
